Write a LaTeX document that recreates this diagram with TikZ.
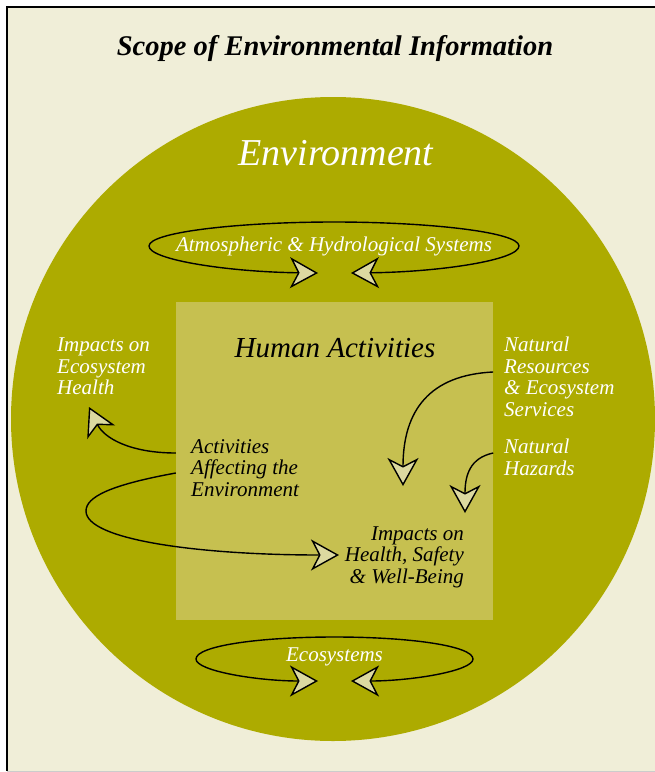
\documentclass[tikz,border=0pt]{standalone}
\usepackage{fontspec}
\setmainfont{Liberation Serif}
\usetikzlibrary{arrows.meta}
\definecolor{cream}{HTML}{F0EED8}
\definecolor{olive}{HTML}{ADAB00}
\definecolor{paleolive}{HTML}{C6C050}
\definecolor{tipfill}{HTML}{DCD9A0}
\tikzset{
	whitelabel/.style={text=white, inner sep=0pt, font=\fontsize{21bp}{21.5bp}\selectfont\itshape},
	blacklabel/.style={text=black, inner sep=0pt, font=\fontsize{21bp}{21.5bp}\selectfont\itshape},
	bigtip/.tip={Stealth[length=28bp, width=31bp, inset=8bp, fill=tipfill]},
	flow/.style={line width=1.4bp, -bigtip},
	twoway/.style={line width=1.4bp, bigtip-bigtip}
}
\begin{document}
\begin{tikzpicture}[x=1bp, y=-1bp]
		\useasboundingbox (0,0) rectangle (655,772);
		\fill[white] (0,0) rectangle (655,772);
		\fill[cream] (7,7) rectangle (662,771);
		\draw[line width=2bp] (662,7) -- (7,7) -- (7,771);
		\draw[black!20] (7,771) -- (662,771);
		\node (title) at (335,56) [anchor=base, inner sep=0pt, font=\fontsize{28.5bp}{30bp}\selectfont\bfseries\itshape] {Scope of Environmental Information};
		\fill[olive] (333,419) circle (322);
		\node (env) at (336,165) [anchor=base, inner sep=0pt, text=white, font=\fontsize{38bp}{40bp}\selectfont\itshape] {Environment};
		\node (human) at (334.5,461) [fill=paleolive, minimum width=317bp, minimum height=318bp, inner sep=0pt] {};
		\node (humantitle) at (335,357) [anchor=base, inner sep=0pt, font=\fontsize{29bp}{30bp}\selectfont\itshape] {Human Activities};
		\node (atm) at (334,251.7) [whitelabel, anchor=base] {Atmospheric \& Hydrological Systems};
		\node (eco) at (334.5,661.7) [whitelabel, anchor=base] {Ecosystems};
		\node (ecohealth) at (57,338) [whitelabel, anchor=north west, align=left] {Impacts on\\Ecosystem\\Health};
		\node (resources) at (504,337) [whitelabel, anchor=north west, align=left] {Natural\\Resources\\\& Ecosystem\\Services};
		\node (hazards) at (504,439) [whitelabel, anchor=north west, align=left] {Natural\\Hazards};
		\node (activities) at (191,439) [blacklabel, anchor=north west, align=left] {Activities\\Affecting the\\Environment};
		\node (impacts) at (464,526.5) [blacklabel, anchor=north east, align=right] {Impacts on\\Health, Safety\\\& Well-Being};
		\coordinate (atmL) at (318,273);
		\coordinate (atmR) at (351,273);
		\coordinate (ecoL) at (318,681);
		\coordinate (ecoR) at (351,681);
		\coordinate (ehTip) at (89,407);
		\coordinate (ihTip) at (339,555);
		\coordinate (resTip) at (403,486);
		\coordinate (hazTip) at (465,513);
		\draw[twoway] (atmL) .. controls (230,272) and (149,260) .. (149,246) .. controls (149,232) and (240,222) .. (334,222) .. controls (428,222) and (519,232) .. (519,246) .. controls (519,260) and (440,272) .. (atmR);
		\draw[twoway] (ecoL) .. controls (258,681) and (196,671) .. (196,659) .. controls (196,646) and (258,637) .. (334.5,637) .. controls (411,637) and (473,646) .. (473,659) .. controls (473,671) and (411,681) .. (ecoR);
		\draw[flow] ([yshift=8bp]human.west) .. controls (130,453) and (104,438) .. (ehTip);
		\draw[flow] ([yshift=-12bp]human.west) .. controls (110,485) and (86,497) .. (86,511) .. controls (86,540) and (200,555) .. (ihTip);
		\draw[flow] ([yshift=89bp]human.east) .. controls (430,375) and (403,410) .. (resTip);
		\draw[flow] ([yshift=8bp]human.east) .. controls (470,458) and (465,475) .. (hazTip);
	\end{tikzpicture}
\end{document}
